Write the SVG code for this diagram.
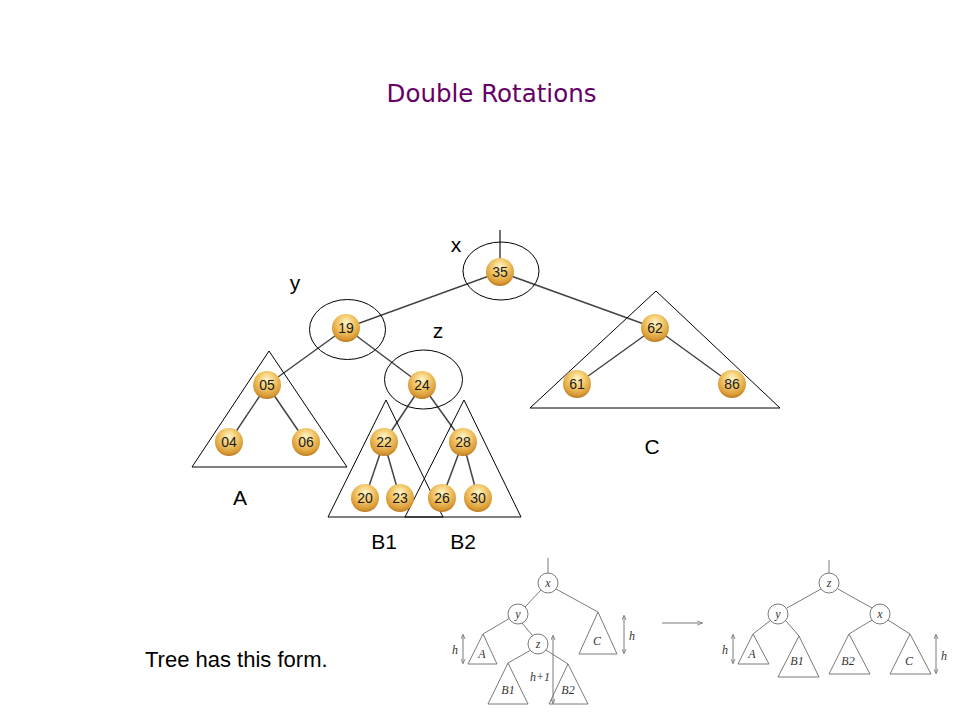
<svg xmlns="http://www.w3.org/2000/svg" width="960" height="720" viewBox="0 0 960 720">
<defs>
<radialGradient id="ball" cx="0.5" cy="0.35" r="0.65" fx="0.5" fy="0.3">
<stop offset="0" stop-color="#fff6c8"/>
<stop offset="0.45" stop-color="#f3c86a"/>
<stop offset="0.85" stop-color="#d99a35"/>
<stop offset="1" stop-color="#b87a20"/>
</radialGradient>
<marker id="ah" viewBox="0 0 6 6" refX="5" refY="3" markerWidth="5" markerHeight="5" orient="auto-start-reverse">
<path d="M0,0.5 L6,3 L0,5.5" fill="none" stroke="#777" stroke-width="1"/>
</marker>
<marker id="ar" viewBox="0 0 8 8" refX="7" refY="4" markerWidth="6" markerHeight="6" orient="auto">
<path d="M0,1 L8,4 L0,7" fill="none" stroke="#777" stroke-width="1"/>
</marker>
</defs>
<style>
.edge{stroke:#444;stroke-width:1.5;fill:none}
.ball{fill:url(#ball)}
.num{font-family:"Liberation Sans",Arial,sans-serif;font-size:14px;fill:#1a1a1a;text-anchor:middle}
.lbl{font-family:"Liberation Sans",Arial,sans-serif;font-size:21px;fill:#000;text-anchor:middle}
.outline{fill:none;stroke:#000;stroke-width:1}
.sm{fill:none;stroke:#7a7a7a;stroke-width:1}
.smc{fill:#fff;stroke:#7a7a7a;stroke-width:1}
.st{font-family:"Liberation Serif","Times New Roman",serif;font-style:italic;font-size:12px;fill:#333;text-anchor:middle}
</style>
<rect width="960" height="720" fill="#fff"/>
<text x="491.5" y="101.5" font-family="'DejaVu Sans',sans-serif" font-size="24" fill="#660066" text-anchor="middle" textLength="210" lengthAdjust="spacingAndGlyphs">Double Rotations</text>

<g id="connectors">
<line class="edge" x1="500" y1="230" x2="500" y2="260"/>
<line class="edge" x1="500" y1="272" x2="346" y2="328"/>
<line class="edge" x1="500" y1="272" x2="655" y2="328"/>
<line class="edge" x1="346" y1="328" x2="267" y2="385"/>
<line class="edge" x1="346" y1="328" x2="422" y2="385"/>
<line class="edge" x1="267" y1="385" x2="229" y2="442"/>
<line class="edge" x1="267" y1="385" x2="306" y2="442"/>
<line class="edge" x1="422" y1="385" x2="384" y2="442"/>
<line class="edge" x1="422" y1="385" x2="463" y2="442"/>
<line class="edge" x1="384" y1="442" x2="365" y2="498"/>
<line class="edge" x1="384" y1="442" x2="400" y2="498"/>
<line class="edge" x1="463" y1="442" x2="442" y2="498"/>
<line class="edge" x1="463" y1="442" x2="478" y2="498"/>
<line class="edge" x1="655" y1="328" x2="577" y2="384"/>
<line class="edge" x1="655" y1="328" x2="732" y2="384"/>
</g>

<g id="subtrees">
<polygon class="outline" points="269,351 192,467 347,467"/>
<polygon class="outline" points="386,400 328,517 443,517"/>
<polygon class="outline" points="464,400 405,517 521,517"/>
<polygon class="outline" points="656,291 530,408 780,408"/>
<ellipse class="outline" cx="501" cy="271" rx="38" ry="29"/>
<ellipse class="outline" cx="347.5" cy="329.5" rx="38" ry="30"/>
<ellipse class="outline" cx="423.5" cy="379.5" rx="39" ry="29.5"/>
</g>

<g id="n35"><circle class="ball" cx="500" cy="272" r="14"/><text class="num" x="500" y="277">35</text></g>
<g id="n19"><circle class="ball" cx="346" cy="328" r="14"/><text class="num" x="346" y="333">19</text></g>
<g id="n62"><circle class="ball" cx="655" cy="328" r="14"/><text class="num" x="655" y="333">62</text></g>
<g id="n05"><circle class="ball" cx="267" cy="385" r="14"/><text class="num" x="267" y="390">05</text></g>
<g id="n24"><circle class="ball" cx="422" cy="385" r="14"/><text class="num" x="422" y="390">24</text></g>
<g id="n61"><circle class="ball" cx="577" cy="384" r="14"/><text class="num" x="577" y="389">61</text></g>
<g id="n86"><circle class="ball" cx="732" cy="384" r="14"/><text class="num" x="732" y="389">86</text></g>
<g id="n04"><circle class="ball" cx="229" cy="442" r="14"/><text class="num" x="229" y="447">04</text></g>
<g id="n06"><circle class="ball" cx="306" cy="442" r="14"/><text class="num" x="306" y="447">06</text></g>
<g id="n22"><circle class="ball" cx="384" cy="442" r="14"/><text class="num" x="384" y="447">22</text></g>
<g id="n28"><circle class="ball" cx="463" cy="442" r="14"/><text class="num" x="463" y="447">28</text></g>
<g id="n20"><circle class="ball" cx="365" cy="498" r="14"/><text class="num" x="365" y="503">20</text></g>
<g id="n23"><circle class="ball" cx="400" cy="498" r="14"/><text class="num" x="400" y="503">23</text></g>
<g id="n26"><circle class="ball" cx="442" cy="498" r="14"/><text class="num" x="442" y="503">26</text></g>
<g id="n30"><circle class="ball" cx="478" cy="498" r="14"/><text class="num" x="478" y="503">30</text></g>

<g id="labels">
<text class="lbl" x="456" y="252">x</text>
<text class="lbl" x="295" y="290">y</text>
<text class="lbl" x="438" y="338">z</text>
<text class="lbl" x="240" y="505">A</text>
<text class="lbl" x="652" y="454">C</text>
<text class="lbl" x="384" y="549">B1</text>
<text class="lbl" x="463" y="549">B2</text>
</g>

<text x="145" y="667" font-family="'Liberation Sans',Arial,sans-serif" font-size="22" fill="#000">Tree has this form.</text>

<g id="small-before">
<line class="sm" x1="548" y1="558" x2="548" y2="573"/>
<line class="sm" x1="541" y1="590" x2="525" y2="607"/>
<line class="sm" x1="556" y1="589" x2="598" y2="612"/>
<line class="sm" x1="510" y1="618" x2="483" y2="634"/>
<line class="sm" x1="522" y1="623" x2="533" y2="636"/>
<line class="sm" x1="531" y1="650" x2="508" y2="663"/>
<line class="sm" x1="546" y1="650" x2="568" y2="664"/>
<circle class="smc" cx="548" cy="583" r="10"/>
<circle class="smc" cx="518" cy="614" r="10"/>
<circle class="smc" cx="538" cy="644" r="10"/>
<text class="st" x="548" y="587">x</text>
<text class="st" x="518" y="618">y</text>
<text class="st" x="538" y="648">z</text>
<polygon class="sm" points="483,634 468,664 497,664"/>
<polygon class="sm" points="598,612 579,654 617,654"/>
<polygon class="sm" points="508,663 488,704 528,704"/>
<polygon class="sm" points="568,664 549,704 588,704"/>
<text class="st" x="482" y="658">A</text>
<text class="st" x="597" y="645">C</text>
<text class="st" x="508" y="694">B1</text>
<text class="st" x="568" y="694">B2</text>
<line class="sm" x1="463" y1="635" x2="463" y2="663" marker-start="url(#ah)" marker-end="url(#ah)"/>
<text class="st" x="455" y="654">h</text>
<line class="sm" x1="553" y1="636" x2="553" y2="703" marker-start="url(#ah)" marker-end="url(#ah)"/>
<text class="st" x="540" y="681">h+1</text>
<line class="sm" x1="624" y1="616" x2="624" y2="653" marker-start="url(#ah)" marker-end="url(#ah)"/>
<text class="st" x="632" y="640">h</text>
</g>

<g id="rotate-arrow">
<line class="sm" x1="662" y1="623" x2="702" y2="623" marker-end="url(#ar)"/>
</g>

<g id="small-after">
<line class="sm" x1="829" y1="560" x2="829" y2="573"/>
<line class="sm" x1="821" y1="589" x2="787" y2="608"/>
<line class="sm" x1="838" y1="589" x2="872" y2="608"/>
<line class="sm" x1="771" y1="620" x2="753" y2="634"/>
<line class="sm" x1="786" y1="621" x2="799" y2="636"/>
<line class="sm" x1="872" y1="620" x2="849" y2="634"/>
<line class="sm" x1="888" y1="620" x2="910" y2="634"/>
<circle class="smc" cx="829" cy="583" r="10"/>
<circle class="smc" cx="778" cy="614" r="10"/>
<circle class="smc" cx="880" cy="614" r="10"/>
<text class="st" x="829" y="587">z</text>
<text class="st" x="778" y="618">y</text>
<text class="st" x="880" y="618">x</text>
<polygon class="sm" points="753,634 738,664 769,664"/>
<polygon class="sm" points="799,636 778,677 819,677"/>
<polygon class="sm" points="849,634 829,674 870,674"/>
<polygon class="sm" points="910,634 890,674 931,674"/>
<text class="st" x="752" y="658">A</text>
<text class="st" x="797" y="665">B1</text>
<text class="st" x="848" y="665">B2</text>
<text class="st" x="909" y="665">C</text>
<line class="sm" x1="733" y1="635" x2="733" y2="663" marker-start="url(#ah)" marker-end="url(#ah)"/>
<text class="st" x="725" y="654">h</text>
<line class="sm" x1="936" y1="635" x2="936" y2="673" marker-start="url(#ah)" marker-end="url(#ah)"/>
<text class="st" x="944" y="660">h</text>
</g>
</svg>
